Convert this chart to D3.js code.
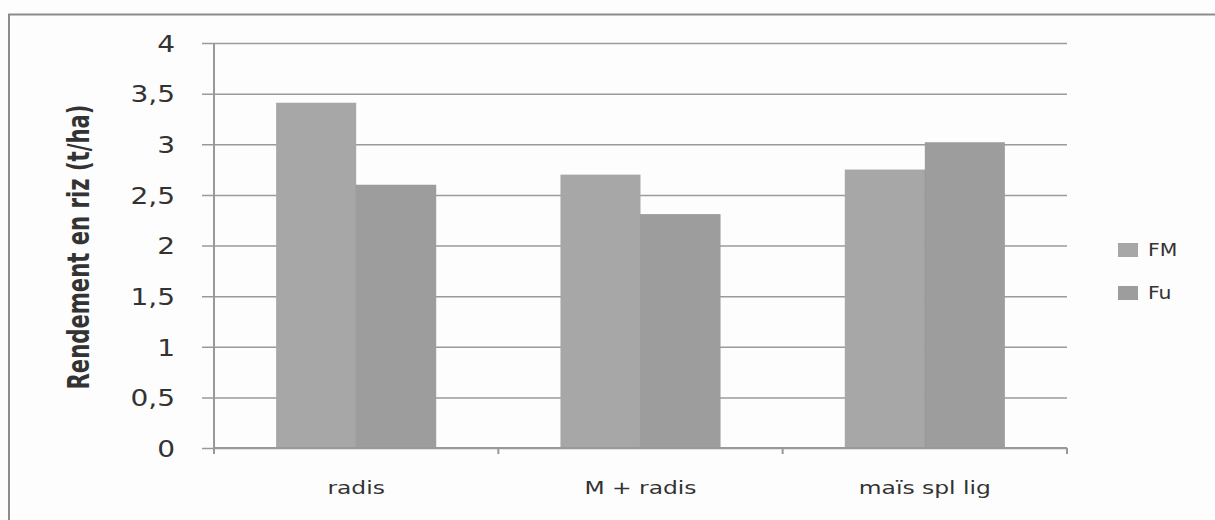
<!DOCTYPE html>
<html>
<head>
<meta charset="utf-8">
<script src="https://cdn.jsdelivr.net/npm/d3@7"></script>
<style>
  html, body { margin: 0; padding: 0; background: #fdfdfd; }
  svg { display: block; }
</style>
</head>
<body>
<svg id="chart" width="1215" height="520"></svg>
<script>
// Rice yield by cropping system, two fertilisation modes
const categories = ["radis", "M + radis", "maïs spl lig"];
const seriesNames = ["FM", "Fu"];
const valuesFM = [3.41, 2.7, 2.75];
const valuesFu = [2.6, 2.31, 3.02];
const yTicks = [0, 0.5, 1, 1.5, 2, 2.5, 3, 3.5, 4];
const yTickLabels = ["0", "0,5", "1", "1,5", "2", "2,5", "3", "3,5", "4"];
const yTitle = "Rendement en riz (t/ha)";

const colors = { FM: "#a7a7a7", Fu: "#9d9d9d" };
const seriesValues = { FM: valuesFM, Fu: valuesFu };
const textFont = "DejaVu Sans, Verdana, sans-serif";

const svg = d3.select("#chart");
const plot = { left: 214, right: 1067, top: 43, bottom: 448 };

// chart frame
svg.append("path")
  .attr("d", `M9,530 L9,14.5 L1215,14.5`)
  .attr("fill", "none").attr("stroke", "#8c8c8c").attr("stroke-width", 2);

const x0 = d3.scaleBand().domain(categories)
  .range([plot.left, plot.right])
  .paddingInner(0.437).paddingOuter(0.2185);
const x1 = d3.scaleBand().domain(seriesNames).range([0, x0.bandwidth()]);
const y = d3.scaleLinear().domain([0, 4]).range([plot.bottom, plot.top]);

// horizontal gridlines with outside major ticks
const yAxis = d3.axisLeft(y).tickValues(yTicks)
  .tickSize(-(plot.right - plot.left)).tickPadding(0)
  .tickFormat((d, i) => yTickLabels[i]);
const gy = svg.append("g").attr("transform", `translate(${plot.left},0)`).call(yAxis);
gy.select(".domain").remove();
gy.selectAll(".tick line").attr("stroke", "#9a9a9a").attr("stroke-width", 1.5)
  .attr("x1", -12);
const tickScale = 1.22;
gy.selectAll(".tick text")
  .attr("x", -39 / tickScale).attr("dy", "0.36em")
  .attr("transform", `scale(${tickScale},1)`)
  .attr("font-family", textFont)
  .attr("font-size", 23).attr("fill", "#333");
// vertical axis line
svg.append("line")
  .attr("x1", plot.left).attr("x2", plot.left)
  .attr("y1", plot.top).attr("y2", plot.bottom + 6)
  .attr("stroke", "#999").attr("stroke-width", 2);

// bars
const groups = svg.append("g").selectAll("g").data(categories).join("g")
  .attr("transform", d => `translate(${x0(d)},0)`);
groups.selectAll("rect")
  .data((c, i) => seriesNames.map(s => ({ s, v: seriesValues[s][i] })))
  .join("rect")
  .attr("x", d => x1(d.s))
  .attr("y", d => y(d.v))
  .attr("width", x1.bandwidth())
  .attr("height", d => y(0) - y(d.v))
  .attr("fill", d => colors[d.s]);
groups.append("line")
  .attr("x1", x1("Fu")).attr("x2", x1("Fu"))
  .attr("y1", (c, i) => y(Math.min(valuesFM[i], valuesFu[i]))).attr("y2", y(0))
  .attr("stroke", "#959595").attr("stroke-width", 0.8);

// category axis
const xBoundaries = [plot.left, ...categories.map(c => x0(c) + x0.bandwidth() + x0.step() * x0.paddingInner() / 2)];
xBoundaries[xBoundaries.length - 1] = plot.right;
svg.append("line")
  .attr("x1", plot.left).attr("x2", plot.right)
  .attr("y1", plot.bottom).attr("y2", plot.bottom)
  .attr("stroke", "#999").attr("stroke-width", 2);
svg.append("g").selectAll("line").data(xBoundaries).join("line")
  .attr("x1", d => d).attr("x2", d => d)
  .attr("y1", plot.bottom).attr("y2", plot.bottom + 6)
  .attr("stroke", "#999").attr("stroke-width", 2);
const catScale = 1.3;
svg.append("g").attr("transform", `scale(${catScale},1)`)
  .selectAll("text").data(categories).join("text")
  .attr("x", d => (x0(d) + x0.bandwidth() / 2) / catScale)
  .attr("y", 494)
  .attr("text-anchor", "middle")
  .attr("font-family", textFont)
  .attr("font-size", 18).attr("fill", "#333")
  .text(d => d);

// y-axis title
svg.append("text")
  .attr("transform", "translate(89,247) rotate(-90)")
  .attr("text-anchor", "middle")
  .attr("font-family", "DejaVu Sans Condensed, DejaVu Sans, sans-serif")
  .attr("font-weight", "bold")
  .attr("font-size", 30).attr("fill", "#333")
  .attr("textLength", 285).attr("lengthAdjust", "spacingAndGlyphs")
  .text(yTitle);

// legend
const legScale = 1.2;
const legend = svg.append("g").selectAll("g").data(seriesNames).join("g")
  .attr("transform", (d, i) => `translate(1118,${250 + i * 43})`);
legend.append("rect")
  .attr("x", 0).attr("y", -7).attr("width", 20).attr("height", 14)
  .attr("fill", d => colors[d]);
legend.append("text")
  .attr("transform", `translate(30,0) scale(${legScale},1)`)
  .attr("dy", "0.36em")
  .attr("font-family", textFont)
  .attr("font-size", 17).attr("fill", "#333")
  .text(d => d);
</script>
</body>
</html>
